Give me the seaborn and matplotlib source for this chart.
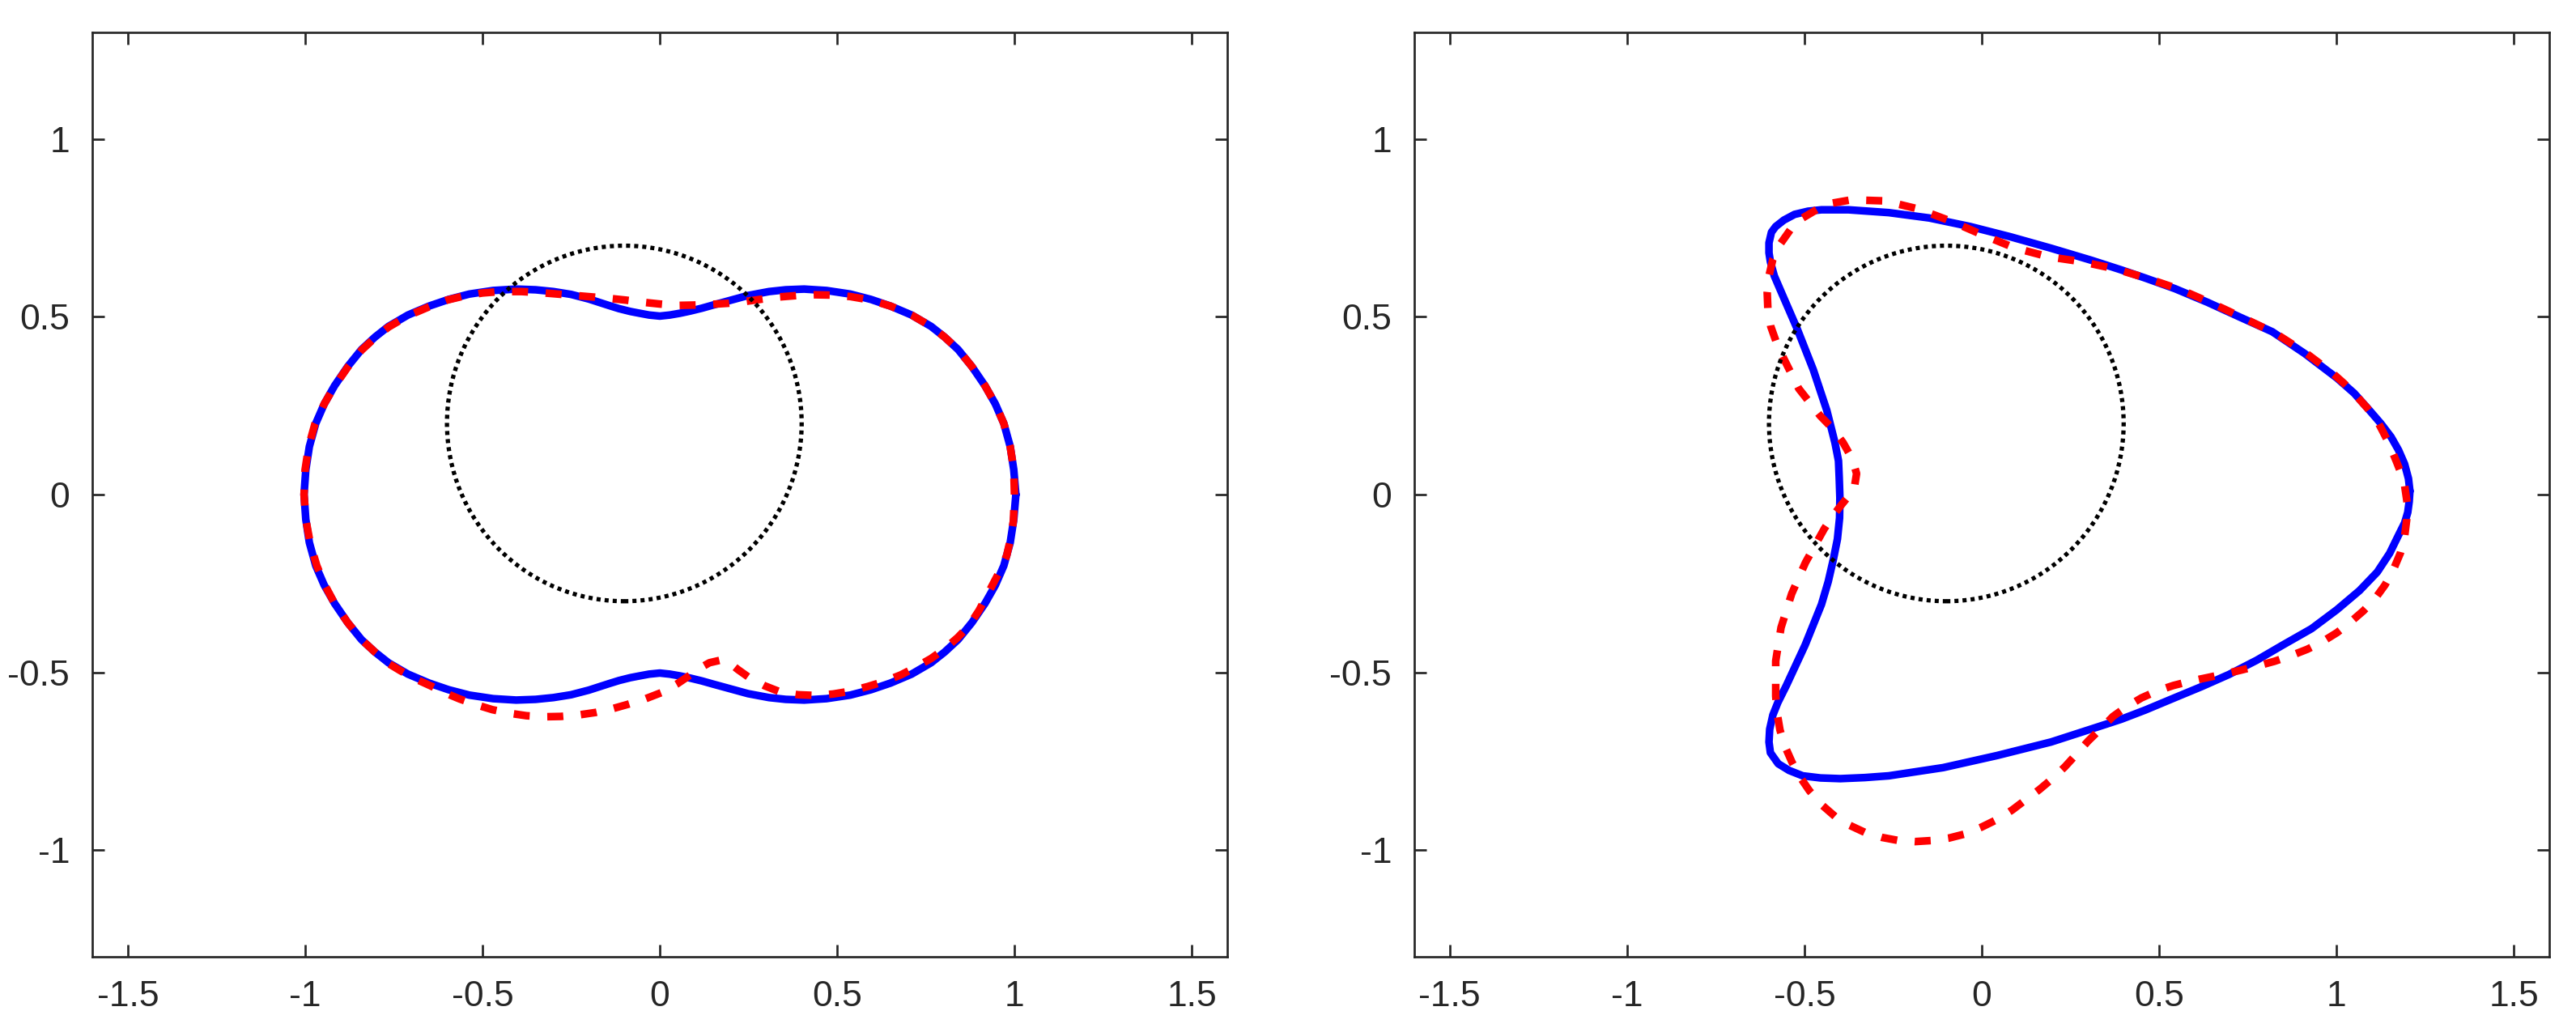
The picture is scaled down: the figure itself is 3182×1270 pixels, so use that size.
import numpy as np
import pandas as pd
import matplotlib
matplotlib.use("Agg")
import matplotlib.pyplot as plt
import seaborn as sns
from matplotlib.patches import Circle

# ---------------- data ----------------
x_ticks = [-1.5, -1, -0.5, 0, 0.5, 1, 1.5]
x_tick_labels = ["-1.5", "-1", "-0.5", "0", "0.5", "1", "1.5"]
y_ticks = [-1, -0.5, 0, 0.5, 1]
y_tick_labels = ["-1", "-0.5", "0", "0.5", "1"]
x_limits = (-1.6, 1.6)
y_limits = (-1.3, 1.3)

# dotted reference circle (same in both panels)
circle_center = (-0.1, 0.2)
circle_radius = 0.5

# Left panel, blue solid curve
left_blue_x = [1.004, 0.998, 0.988, 0.970, 0.946, 0.917, 0.880, 0.841, 0.803, 0.765, 0.710, 0.651,
               0.595, 0.537, 0.470, 0.407, 0.355, 0.308, 0.249, 0.194, 0.150, 0.118, 0.085, 0.057,
               0.028, 0.0, -0.030, -0.057, -0.083, -0.115, -0.144, -0.200, -0.250, -0.300, -0.350,
               -0.405, -0.470, -0.537, -0.595, -0.651, -0.710, -0.765, -0.803, -0.841, -0.880,
               -0.917, -0.946, -0.970, -0.988, -0.998, -1.003,
               -0.998, -0.988, -0.970, -0.946, -0.917, -0.880, -0.841, -0.803, -0.765, -0.710,
               -0.651, -0.595, -0.537, -0.470, -0.405, -0.350, -0.300, -0.250, -0.200, -0.144,
               -0.115, -0.083, -0.057, -0.030, 0.0, 0.028, 0.057, 0.085, 0.118, 0.150, 0.194,
               0.249, 0.308, 0.355, 0.407, 0.470, 0.537, 0.595, 0.651, 0.710, 0.765, 0.803,
               0.841, 0.880, 0.917, 0.946, 0.970, 0.988, 0.998, 1.004]
left_blue_y = [0.0, 0.070, 0.135, 0.200, 0.255, 0.306, 0.360, 0.408, 0.443, 0.473, 0.505, 0.530,
               0.549, 0.564, 0.574, 0.578, 0.576, 0.571, 0.560, 0.545, 0.533, 0.524, 0.516, 0.510,
               0.505, 0.502, 0.505, 0.510, 0.515, 0.523, 0.532, 0.550, 0.563, 0.571, 0.576,
               0.578, 0.574, 0.564, 0.549, 0.530, 0.505, 0.473, 0.443, 0.408, 0.360,
               0.306, 0.255, 0.200, 0.135, 0.070, 0.0,
               -0.070, -0.135, -0.200, -0.255, -0.306, -0.360, -0.408, -0.443, -0.473, -0.505,
               -0.530, -0.549, -0.564, -0.574, -0.578, -0.576, -0.571, -0.563, -0.550, -0.532,
               -0.523, -0.515, -0.510, -0.505, -0.502, -0.505, -0.510, -0.516, -0.524, -0.533, -0.545,
               -0.560, -0.571, -0.576, -0.578, -0.574, -0.564, -0.549, -0.530, -0.505, -0.473, -0.443,
               -0.408, -0.360, -0.306, -0.255, -0.200, -0.135, -0.070, 0.0]

# Left panel, red dashed curve
left_red_x = [1.0, 0.998, 0.988, 0.970, 0.946, 0.917, 0.880, 0.841, 0.803, 0.765, 0.710, 0.651,
              0.595, 0.537, 0.488, 0.438, 0.389, 0.339, 0.290, 0.240, 0.192, 0.144, 0.096, 0.048,
              0.0, -0.048, -0.096, -0.144, -0.192, -0.240, -0.288, -0.336, -0.390, -0.450, -0.500,
              -0.550, -0.600, -0.651, -0.710, -0.765, -0.803, -0.841, -0.880, -0.917, -0.946,
              -0.972, -0.990, -1.000, -1.003, -0.998, -0.985, -0.967, -0.944, -0.917, -0.880,
              -0.841, -0.803, -0.765, -0.732, -0.690, -0.646, -0.605, -0.564, -0.518, -0.472,
              -0.424, -0.376, -0.328, -0.279, -0.230, -0.182, -0.136, -0.090, -0.042, 0.007, 0.048,
              0.088, 0.115, 0.140, 0.170, 0.195, 0.220, 0.251, 0.296, 0.342, 0.390, 0.438, 0.488,
              0.537, 0.586, 0.635, 0.680, 0.719, 0.765, 0.803, 0.840, 0.871, 0.900, 0.925, 0.955,
              0.978, 0.990, 0.997, 1.0]
left_red_y = [0.0, 0.070, 0.135, 0.200, 0.255, 0.306, 0.360, 0.408, 0.443, 0.473, 0.505, 0.530,
              0.547, 0.557, 0.561, 0.562, 0.560, 0.556, 0.550, 0.543, 0.538, 0.535, 0.533, 0.532,
              0.536, 0.541, 0.547, 0.552, 0.556, 0.560, 0.564, 0.568, 0.571, 0.571, 0.567,
              0.559, 0.547, 0.528, 0.503, 0.471, 0.441, 0.406, 0.358, 0.305, 0.255,
              0.200, 0.135, 0.070, 0.0, -0.070, -0.140, -0.200, -0.255, -0.306, -0.360,
              -0.408, -0.443, -0.475, -0.495, -0.518, -0.538, -0.558, -0.575, -0.591, -0.605,
              -0.615, -0.622, -0.625, -0.624, -0.620, -0.613, -0.603, -0.590, -0.575, -0.556, -0.533,
              -0.506, -0.487, -0.473, -0.466, -0.472, -0.492, -0.514, -0.538, -0.556, -0.563, -0.565, -0.561,
              -0.553, -0.540, -0.525, -0.507, -0.487, -0.461, -0.434, -0.402, -0.370, -0.326, -0.279, -0.222,
              -0.172, -0.120, -0.074, 0.0]

# Right panel, blue solid curve
right_blue_x = [1.207, 1.203, 1.192, 1.175, 1.154, 1.125, 1.093, 1.050, 1.001, 0.910, 0.819, 0.728,
                0.636, 0.545, 0.461, 0.393, 0.309, 0.195, 0.081, -0.033, -0.148, -0.262, -0.376,
                -0.452, -0.490, -0.528, -0.558, -0.581, -0.593, -0.600, -0.600, -0.596, -0.585,
                -0.566, -0.520, -0.475, -0.437, -0.414, -0.404, -0.402, -0.400, -0.401, -0.407,
                -0.418, -0.433, -0.452, -0.498, -0.551, -0.575, -0.589, -0.598, -0.600, -0.596,
                -0.574, -0.543, -0.505, -0.455, -0.399, -0.330, -0.262, -0.109, 0.043, 0.195, 0.347,
                0.393, 0.461, 0.545, 0.620, 0.697, 0.775, 0.849, 0.930, 1.001, 1.065, 1.115, 1.150,
                1.176, 1.192, 1.201, 1.205, 1.207]
right_blue_y = [0.010, 0.045, 0.086, 0.125, 0.162, 0.200, 0.237, 0.285, 0.328, 0.397, 0.458, 0.499,
                0.541, 0.579, 0.609, 0.632, 0.659, 0.693, 0.725, 0.754, 0.778, 0.793, 0.801,
                0.801, 0.797, 0.788, 0.772, 0.754, 0.738, 0.708, 0.680, 0.655, 0.615,
                0.571, 0.465, 0.351, 0.237, 0.146, 0.095, 0.048, -0.010, -0.066, -0.125,
                -0.180, -0.245, -0.309, -0.423, -0.537, -0.585, -0.620, -0.660, -0.696, -0.726,
                -0.757, -0.776, -0.791, -0.797, -0.799, -0.796, -0.791, -0.768, -0.734, -0.696, -0.647,
                -0.632, -0.606, -0.571, -0.540, -0.506, -0.466, -0.423, -0.377, -0.324, -0.270, -0.218,
                -0.165, -0.112, -0.080, -0.050, -0.020, 0.010]

# Right panel, red dashed curve
right_red_x = [1.199, 1.190, 1.169, 1.146, 1.119, 1.088, 1.055, 1.021, 0.986, 0.910, 0.827, 0.739,
               0.651, 0.564, 0.473, 0.380, 0.282, 0.187, 0.092, 0.001, -0.087, -0.178, -0.273,
               -0.368, -0.420, -0.463, -0.505, -0.539, -0.568, -0.589, -0.600, -0.605, -0.603,
               -0.595, -0.578, -0.558, -0.516, -0.456, -0.420, -0.391, -0.365, -0.353, -0.360,
               -0.395, -0.420, -0.444, -0.497, -0.536, -0.566, -0.581, -0.581, -0.577, -0.569,
               -0.555, -0.535, -0.512, -0.486, -0.452, -0.414, -0.373, -0.330, -0.283, -0.235,
               -0.188, -0.140, -0.092, -0.045, 0.0, 0.047, 0.086, 0.123, 0.162, 0.199, 0.234,
               0.267, 0.300, 0.336, 0.370, 0.408, 0.450, 0.495, 0.540, 0.587, 0.635, 0.682, 0.730,
               0.777, 0.825, 0.872, 0.918, 0.960, 1.002, 1.040, 1.076, 1.108, 1.137, 1.161, 1.180,
               1.192, 1.198, 1.199]
right_red_y = [-0.021, 0.040, 0.093, 0.148, 0.200, 0.242, 0.279, 0.313, 0.344, 0.401, 0.454, 0.496,
               0.537, 0.575, 0.606, 0.634, 0.655, 0.669, 0.694, 0.731, 0.769, 0.803, 0.826,
               0.829, 0.820, 0.803, 0.778, 0.746, 0.705, 0.662, 0.615, 0.568, 0.520,
               0.473, 0.425, 0.382, 0.298, 0.222, 0.185, 0.146, 0.100, 0.059, 0.015,
               -0.028, -0.060, -0.096, -0.191, -0.279, -0.374, -0.468, -0.567, -0.615, -0.662,
               -0.708, -0.753, -0.795, -0.833, -0.872, -0.905, -0.930, -0.950, -0.964, -0.973,
               -0.976, -0.973, -0.966, -0.954, -0.935, -0.912, -0.887, -0.859, -0.830, -0.799, -0.766,
               -0.730, -0.693, -0.658, -0.624, -0.597, -0.572, -0.552, -0.537, -0.525, -0.515, -0.505, -0.494,
               -0.482, -0.469, -0.453, -0.435, -0.414, -0.388, -0.358, -0.327, -0.294, -0.254, -0.210, -0.165,
               -0.119, -0.070, -0.021]

panels = [
    (left_blue_x, left_blue_y, left_red_x, left_red_y),
    (right_blue_x, right_blue_y, right_red_x, right_red_y),
]

# ---------------- styling ----------------
sns.set_style("white")
plt.rcParams['font.family'] = ['Liberation Sans', 'DejaVu Sans']
plt.rcParams['axes.unicode_minus'] = False

W, H, DPI = 3182, 1270, 200
fig = plt.figure(figsize=(W / DPI, H / DPI), dpi=DPI)
fig.patch.set_facecolor("white")

axis_color = "#262626"
ax_rects = [
    [114 / W, 88 / H, 1402 / W, 1142 / H],
    [1747 / W, 88 / H, 1402 / W, 1142 / H],
]

for rect, (bx, by, rx, ry) in zip(ax_rects, panels):
    ax = fig.add_axes(rect)
    ax.set_facecolor("white")
    blue_df = pd.DataFrame({"x": bx, "y": by})
    red_df = pd.DataFrame({"x": rx, "y": ry})
    sns.lineplot(data=blue_df, x="x", y="y", sort=False, estimator=None,
                 color="#0000ff", linewidth=3.4, solid_joinstyle="round", ax=ax)
    sns.lineplot(data=red_df, x="x", y="y", sort=False, estimator=None,
                 color="#ff0000", linewidth=3.4, linestyle=(0, (2.1, 2.3)),
                 dash_joinstyle="round", ax=ax)
    circ = Circle(circle_center, circle_radius, fill=False, edgecolor="black",
                  linewidth=1.9, linestyle=(0, (0.95, 0.95)), zorder=5)
    ax.add_patch(circ)

    ax.set_xlim(*x_limits)
    ax.set_ylim(*y_limits)
    ax.set_xticks(x_ticks)
    ax.set_xticklabels(x_tick_labels)
    ax.set_yticks(y_ticks)
    ax.set_yticklabels(y_tick_labels)
    ax.set_xlabel("")
    ax.set_ylabel("")
    ax.tick_params(axis="both", direction="in", length=5.4, width=0.97,
                   top=True, right=True, bottom=True, left=True,
                   labelsize=16, colors=axis_color)
    ax.tick_params(axis="x", pad=10.5)
    ax.tick_params(axis="y", pad=10)
    for sp in ax.spines.values():
        sp.set_visible(True)
        sp.set_color(axis_color)
        sp.set_linewidth(0.97)
    ax.grid(False)

fig.savefig("out.png", dpi=DPI, facecolor="white")
